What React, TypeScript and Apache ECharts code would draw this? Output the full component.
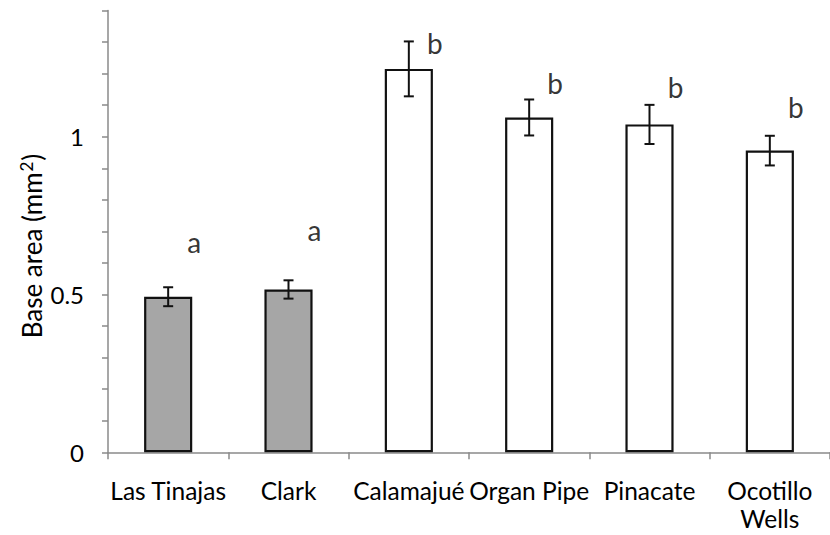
import React, { useEffect, useRef } from "react";
import * as echarts from "echarts";

const categories = ["Las Tinajas", "Clark", "Calamajué", "Organ Pipe", "Pinacate", "Ocotillo\nWells"];
const means = [0.493, 0.516, 1.215, 1.061, 1.039, 0.956];
const errors = [0.03, 0.029, 0.087, 0.057, 0.062, 0.047];
const letters = ["a", "a", "b", "b", "b", "b"];
const letterY = [0.667, 0.704, 1.297, 1.17, 1.159, 1.094];
const yLabeled = [0, 0.5, 1];

const FONT = "Lato";

export default function App() {
  const ref = useRef<HTMLDivElement>(null);
  useEffect(() => {
    if (!ref.current) return;
    const chart = echarts.init(ref.current, undefined, { renderer: "svg" });
    const option: any = {
      animation: false,
      backgroundColor: "#ffffff",
      textStyle: { fontFamily: FONT },
      grid: { left: 108, top: 10.5, width: 731, height: 441.8, containLabel: false },
      xAxis: {
        type: "category",
        data: categories,
        boundaryGap: true,
        axisLine: { show: true, lineStyle: { color: "#8a8a8a", width: 1.5 } },
        axisTick: { show: true, interval: 0, alignWithLabel: false, length: 7, lineStyle: { color: "#8a8a8a", width: 1.5 } },
        axisLabel: { interval: 0, fontSize: 24.5, color: "#000", fontFamily: FONT, lineHeight: 28, margin: 24 },
      },
      yAxis: {
        type: "value",
        min: 0,
        max: 1.4,
        interval: 0.1,
        splitLine: { show: false },
        axisLine: { show: true, lineStyle: { color: "#8a8a8a", width: 1.5 } },
        axisTick: { show: true, length: 6, lineStyle: { color: "#8a8a8a", width: 1.5 } },
        axisLabel: {
          fontSize: 24,
          color: "#000",
          fontFamily: FONT,
          margin: 24,
          formatter: (v: number) => (yLabeled.some((t) => Math.abs(t - v) < 1e-6) ? String(v) : ""),
        },
      },
      graphic: [
        {
          type: "text",
          x: 32,
          y: 246,
          rotation: Math.PI / 2,
          style: {
            text: "{base|Base area (mm}{sup|2}{base|)}",
            font: "26px Lato",
            fill: "#000",
            textAlign: "center",
            textVerticalAlign: "middle",
            rich: {
              base: { fontSize: 26, fontFamily: FONT, fill: "#000" },
              sup: { fontSize: 17, fontFamily: FONT, fill: "#000", padding: [0, 1, 12, 1] },
            },
          },
        },
      ],
      series: [
        {
          type: "bar",
          barWidth: "40%",
          data: means.map((v, i) => ({
            value: v,
            itemStyle: { color: letters[i] === "a" ? "#a6a6a6" : "#ffffff", borderColor: "#111", borderWidth: 2.2 },
          })),
          z: 2,
        },
        {
          type: "custom",
          z: 3,
          data: means.map((m, i) => [i, m - errors[i], m + errors[i]]),
          renderItem: (params: any, api: any) => {
            const x = api.value(0);
            const lo = api.coord([x, api.value(1)]);
            const hi = api.coord([x, api.value(2)]);
            const hw = 5;
            const style = { stroke: "#111", lineWidth: 2 };
            return {
              type: "group",
              children: [
                { type: "line", shape: { x1: lo[0], y1: lo[1], x2: hi[0], y2: hi[1] }, style },
                { type: "line", shape: { x1: lo[0] - hw, y1: lo[1], x2: lo[0] + hw, y2: lo[1] }, style },
                { type: "line", shape: { x1: hi[0] - hw, y1: hi[1], x2: hi[0] + hw, y2: hi[1] }, style },
              ],
            };
          },
        },
        {
          type: "scatter",
          symbol: "circle",
          symbolSize: 1,
          itemStyle: { color: "rgba(0,0,0,0)" },
          data: letterY.map((y, i) => [i, y]),
          label: {
            show: true,
            position: "inside",
            offset: [26, 0],
            fontSize: 28,
            fontFamily: FONT,
            color: "#000",
            formatter: (p: any) => letters[p.dataIndex],
          },
          z: 4,
        },
      ],
    };
    chart.setOption(option);
    return () => chart.dispose();
  }, []);
  return <div ref={ref} style={{ position: "fixed", left: 0, top: 0, width: 830, height: 535 }} />;
}
